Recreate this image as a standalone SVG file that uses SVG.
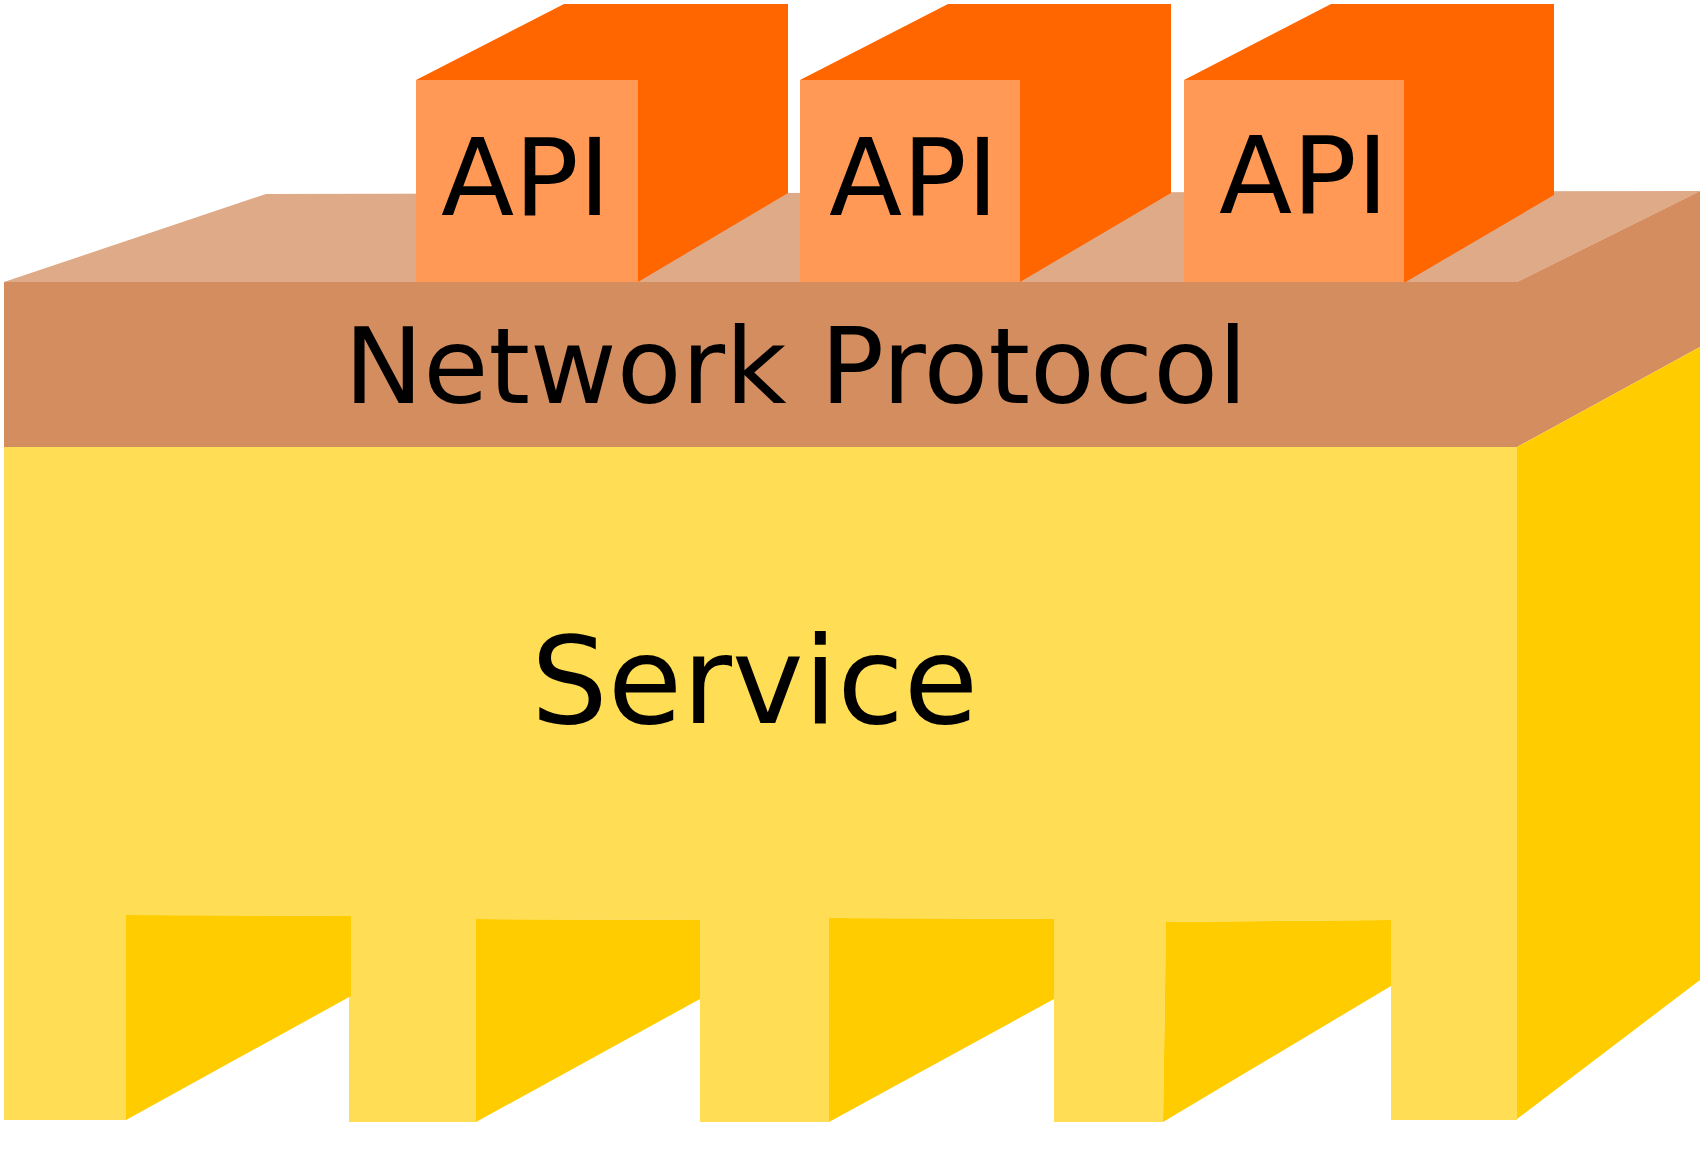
<svg xmlns="http://www.w3.org/2000/svg" width="1704" height="1158" viewBox="0 0 1704 1158">
  <style>
    .lbl { font-family: "DejaVu Sans", "Liberation Sans", sans-serif; fill: #000000; }
    .brownTop { fill: #DEAA87; }
    .brownFront { fill: #D38D5F; }
    .orangeFront { fill: #FF9955; }
    .orangeDark { fill: #FF6600; }
    .yellowLight { fill: #FFDD55; }
    .yellowDark { fill: #FFCC00; }
  </style>
  <rect x="0" y="0" width="1704" height="1158" fill="#FFFFFF"/>

  <g id="network-protocol-top">
    <polygon class="brownTop" points="4,282 266,194 1700,191 1517,282"/>
  </g>

  <g id="api-1">
    <polygon class="orangeDark" points="416,80 564,4 788,4 788,193 638,282 638,80"/>
    <rect class="orangeFront" x="416" y="80" width="222" height="202"/>
    <text class="lbl" x="441" y="215" font-size="107">API</text>
  </g>

  <g id="api-2">
    <polygon class="orangeDark" points="800,80 948,4 1171,4 1171,193 1020,282 1020,80"/>
    <rect class="orangeFront" x="800" y="80" width="220" height="202"/>
    <text class="lbl" x="829" y="215" font-size="107">API</text>
  </g>

  <g id="api-3">
    <polygon class="orangeDark" points="1184,80 1331,4 1554,4 1554,195 1404,283 1404,80"/>
    <rect class="orangeFront" x="1184" y="80" width="220" height="202"/>
    <text class="lbl" x="1219" y="213" font-size="107">API</text>
  </g>

  <g id="network-protocol">
    <rect class="brownFront" x="4" y="282" width="1513" height="165"/>
    <polygon class="brownFront" points="1517,282 1700,191 1700,347 1517,447"/>
    <text class="lbl" x="344" y="403" font-size="106">Network Protocol</text>
  </g>

  <g id="service">
    <path class="yellowLight" d="M4,447 H1517 V1120 H1391 V920 L1166,922 L1163,1122 H1054 V919 L829,918 V1122 H700 V920 L476,919 V1122 H349 V916 L126,915 V1120 H4 Z"/>
    <polygon class="yellowDark" points="126,915 351,916 351,996 126,1120"/>
    <polygon class="yellowDark" points="476,919 700,920 700,999 476,1122"/>
    <polygon class="yellowDark" points="829,918 1054,919 1054,999 829,1122"/>
    <polygon class="yellowDark" points="1166,922 1391,920 1391,986 1163,1122"/>
    <polygon class="yellowDark" points="1517,447 1700,347 1700,980 1517,1119"/>
    <text class="lbl" x="531" y="723" font-size="121">Service</text>
  </g>
</svg>
